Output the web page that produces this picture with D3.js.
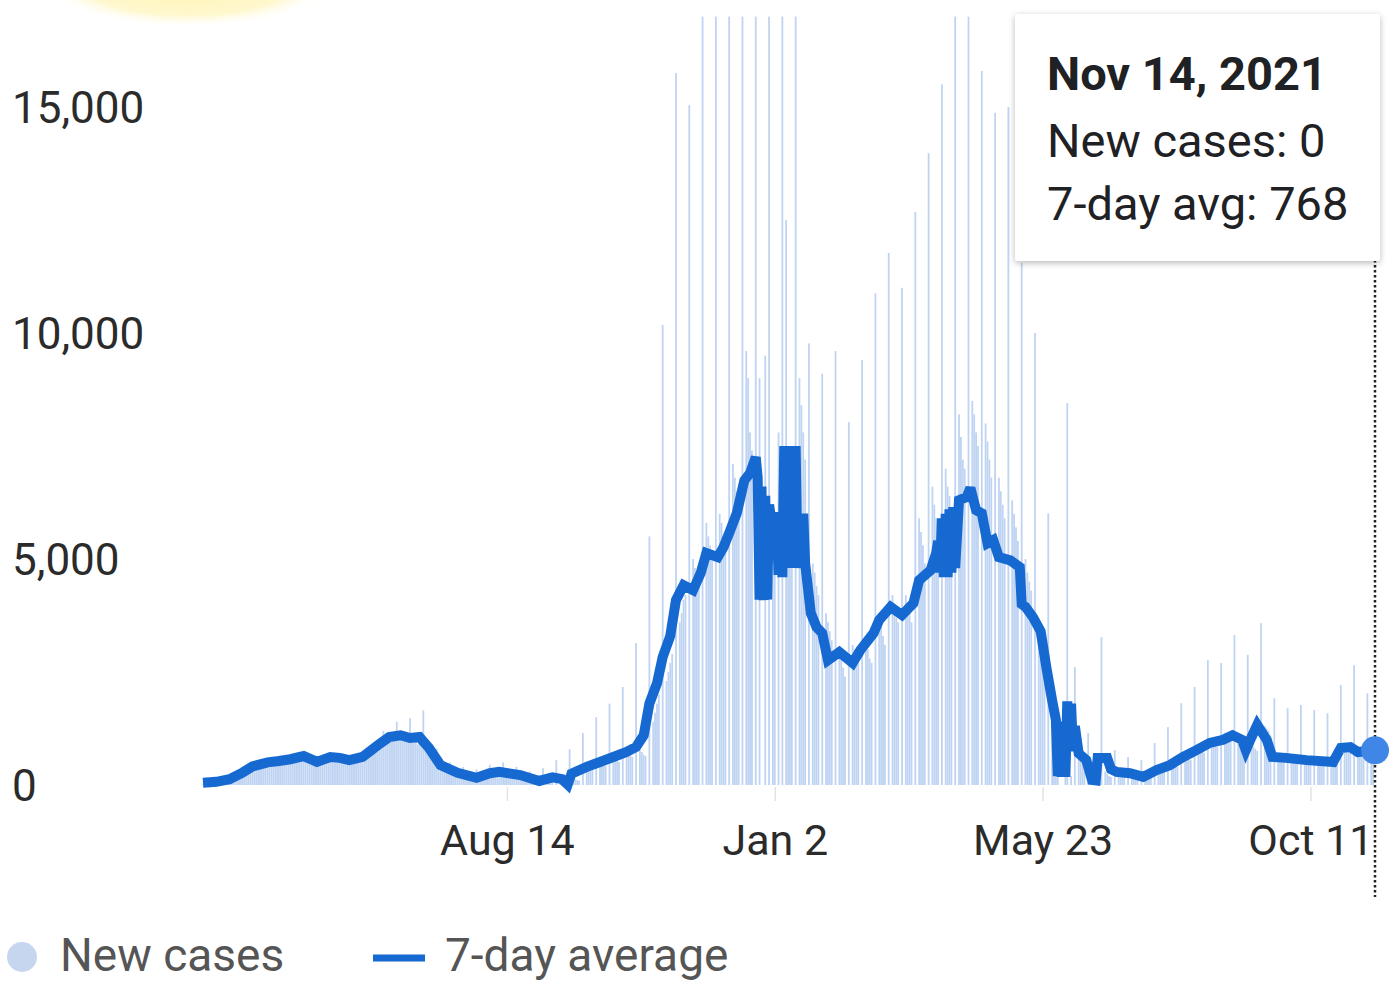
<!DOCTYPE html>
<html>
<head>
<meta charset="utf-8">
<script src="https://cdn.jsdelivr.net/npm/d3@7"></script>
<style>
html,body{margin:0;padding:0;background:#fff;}
svg{display:block;font-family:Roboto,"Noto Sans",Arial,sans-serif;}
</style>
</head>
<body>
<svg id="chart" width="1392" height="982"></svg>
<script>
// ---------------- DATA ----------------
const startDate = "2020-03-07";
const endDate = "2021-11-14";
// New cases, first partial week (Sat Mar 7 - Tue Mar 10, 2020)
const newCasesLead = [20, 30, 40, 50];
// New cases per week, each row Wed -> Tue (from Wed Mar 11, 2020)
const newCasesWeeks = [
  [50,60,70,60,55,65,70],
  [90,110,130,120,115,130,140],
  [200,230,260,250,240,270,300],
  [380,410,440,430,400,430,450],
  [470,500,520,480,460,500,510],
  [520,540,560,510,500,540,560],
  [570,600,620,560,540,590,610],
  [650,640,600,580,560,610,600],
  [520,560,550,500,490,540,560],
  [590,620,630,570,560,600,620],
  [560,580,570,530,520,560,580],
  [600,630,650,580,560,620,660],
  [760,820,860,780,740,820,880],
  [1200,1000,1050,980,950,1020,1100],
  [1400,1050,1100,1000,980,1080,1100],
  [1480,1000,1020,950,900,1000,1000],
  [1650,900,850,700,650,700,600],
  [800,550,500,420,380,400,380],
  [500,300,280,240,220,260,300],
  [400,200,200,170,160,200,210],
  [350,150,140,120,110,150,170],
  [450,260,240,200,190,230,250],
  [500,280,260,220,200,250,260],
  [400,210,200,170,160,190,210],
  [300,110,100,80,70,90,100],
  [370,0,150,140,130,120,0],
  [550,0,140,130,120,110,0],
  [790,0,130,120,110,100,0],
  [1150,0,410,390,360,340,0],
  [1500,0,510,480,440,420,0],
  [1800,0,620,590,540,510,0],
  [2170,0,750,710,650,620,0],
  [3140,0,770,730,670,640,0],
  [5500,0,1400,1600,1800,2000,0],
  [10180,0,2300,2500,2700,2900,0],
  [15750,0,3600,3800,4100,4200,0],
  [15040,0,5000,4800,4700,4400,0],
  [17000,0,5800,5500,5300,5000,0],
  [17000,0,6000,5800,5500,5200,0],
  [17000,0,7100,6800,6500,6200,0],
  [17000,0,9600,9000,7800,7400,0],
  [17000,0,9000,0,0,9500,0],
  [17000,0,6000,5400,0,7800,0],
  [17000,0,12500,7200,6000,6600,0],
  [17000,0,9000,8400,7800,7200,0],
  [9770,0,4900,4700,4400,4200,0],
  [9100,0,3800,3600,3400,3200,0],
  [9600,0,2900,2800,2600,2400,0],
  [8030,0,3100,3000,2800,2700,0],
  [9400,0,3100,3000,2800,2700,0],
  [10880,0,3700,3500,3300,3100,0],
  [11770,0,4200,4000,3700,3600,0],
  [11000,0,4200,4000,3800,3600,0],
  [12680,0,5900,5600,5300,4900,0],
  [13980,0,6600,6200,5900,5600,0],
  [15500,0,7000,6600,6400,6000,0],
  [17000,0,8200,7700,7200,7000,0],
  [17000,0,8500,8200,7800,7500,0],
  [15800,0,8000,7600,7200,6800,0],
  [14870,0,6800,6500,6200,5900,0],
  [15000,0,6300,6000,5700,5400,0],
  [11550,0,5000,4700,4500,4300,0],
  [10000,0,3600,3300,3200,3000,0],
  [6010,0,1800,1700,1600,1500,0],
  [0,0,300,8450,0,200,0],
  [2610,0,700,600,500,400,0],
  [1150,0,250,200,180,150,0],
  [3270,0,300,250,200,180,0],
  [770,0,330,300,280,250,0],
  [620,0,300,280,260,240,0],
  [550,0,220,200,180,170,0],
  [930,0,360,340,320,300,0],
  [1280,0,480,450,420,400,0],
  [1810,0,650,620,580,550,0],
  [2170,0,850,800,760,720,0],
  [2760,0,1000,950,900,850,0],
  [2700,0,1150,1100,1050,1000,0],
  [3320,0,1100,1050,1000,950,0],
  [2880,0,900,850,800,750,0],
  [3580,0,1300,1250,1200,1100,0],
  [1920,0,700,650,600,560,0],
  [1700,0,650,620,580,550,0],
  [1770,0,570,540,510,480,0],
  [1660,0,570,540,500,470,0],
  [1590,0,560,520,490,460,0],
  [2210,0,900,850,800,750,0],
  [2650,0,800,750,700,650,0],
  [2030,0,900,850,0]
];
// 7-day average (date, value)
const avgDates = ["2020-03-07","2020-03-14","2020-03-21","2020-03-28","2020-04-02","2020-04-10","2020-04-16","2020-04-22","2020-04-29","2020-05-06","2020-05-13","2020-05-18","2020-05-23","2020-05-30","2020-06-07","2020-06-13","2020-06-19","2020-06-24","2020-06-29","2020-07-04","2020-07-10","2020-07-19","2020-07-29","2020-08-05","2020-08-10","2020-08-21","2020-08-31","2020-09-07","2020-09-12","2020-09-15","2020-09-17","2020-09-25","2020-10-02","2020-10-09","2020-10-16","2020-10-21","2020-10-25","2020-10-28","2020-11-01","2020-11-04","2020-11-08","2020-11-11","2020-11-15","2020-11-20","2020-11-24","2020-11-27","2020-12-03","2020-12-06","2020-12-09","2020-12-13","2020-12-17","2020-12-20","2020-12-23","2020-12-24","2020-12-25","2020-12-26","2020-12-27","2020-12-28","2020-12-29","2020-12-30","2020-12-31","2021-01-03","2021-01-04","2021-01-05","2021-01-06","2021-01-07","2021-01-08","2021-01-09","2021-01-10","2021-01-11","2021-01-12","2021-01-13","2021-01-14","2021-01-15","2021-01-16","2021-01-17","2021-01-18","2021-01-21","2021-01-24","2021-01-27","2021-01-30","2021-02-05","2021-02-12","2021-02-16","2021-02-23","2021-02-26","2021-03-04","2021-03-10","2021-03-16","2021-03-19","2021-03-25","2021-03-28","2021-03-29","2021-03-30","2021-03-31","2021-04-01","2021-04-02","2021-04-03","2021-04-04","2021-04-05","2021-04-06","2021-04-07","2021-04-09","2021-04-13","2021-04-15","2021-04-18","2021-04-21","2021-04-24","2021-04-27","2021-04-30","2021-05-06","2021-05-11","2021-05-12","2021-05-14","2021-05-18","2021-05-22","2021-05-25","2021-05-28","2021-05-30","2021-05-31","2021-06-01","2021-06-02","2021-06-03","2021-06-04","2021-06-05","2021-06-06","2021-06-07","2021-06-08","2021-06-09","2021-06-11","2021-06-15","2021-06-18","2021-06-20","2021-06-21","2021-06-26","2021-06-28","2021-07-01","2021-07-08","2021-07-15","2021-07-22","2021-07-29","2021-08-05","2021-08-12","2021-08-19","2021-08-26","2021-08-31","2021-09-05","2021-09-07","2021-09-10","2021-09-13","2021-09-18","2021-09-21","2021-09-28","2021-10-09","2021-10-23","2021-10-27","2021-11-01","2021-11-05","2021-11-14"];
const avgValues = [50,70,130,280,410,500,530,570,640,510,620,600,550,620,880,1060,1100,1040,1060,820,440,270,160,260,290,220,90,170,130,10,250,400,510,620,730,840,1100,1800,2250,2830,3300,4090,4420,4310,4690,5130,5040,5260,5570,6010,6740,6900,7250,6800,4100,6600,4090,6400,4100,6200,5930,5930,4650,5900,4600,7500,4800,7500,4800,7500,4800,7500,4800,6000,4900,6000,4900,3800,3490,3360,2760,2940,2700,2980,3360,3650,3940,3760,4020,4530,4750,5130,5400,4700,5900,4600,6000,4600,6100,4700,6150,4800,6300,6370,6570,6080,6010,5350,5420,5040,4970,4820,4000,3940,3710,3400,2600,1880,1440,200,1400,180,1300,180,1850,800,1800,750,1300,700,550,110,100,600,600,350,290,260,180,330,440,620,770,930,1000,1100,1000,770,1060,1330,1000,620,600,550,510,820,840,730,768];
const yTicks = [0, 5000, 10000, 15000];
const xTickDates = ["2020-08-14", "2021-01-02", "2021-05-23", "2021-10-11"];
const tooltipTitle = "Nov 14, 2021";
const tooltipLines = ["New cases: 0", "7-day avg: 768"];
const legendLabels = ["New cases", "7-day average"];
const selectedDate = "2021-11-14";
const selectedAvg = 768;

// ---------------- CHART ----------------
const parse = d3.utcParse("%Y-%m-%d");
const svg = d3.select("#chart");

const x = d3.scaleUtc().domain([parse(startDate), parse(endDate)]).range([203, 1375]);
const y = d3.scaleLinear().domain([0, 15000]).range([785, 107]);

const barColor = "#bfd4f2";
const lineColor = "#1769d2";

// decorative yellow glow at top
const defs = svg.append("defs");
const rg = defs.append("radialGradient").attr("id", "glow");
rg.append("stop").attr("offset", "0%").attr("stop-color", "#fff2a8");
rg.append("stop").attr("offset", "75%").attr("stop-color", "#fff8cf");
rg.append("stop").attr("offset", "100%").attr("stop-color", "#ffffff").attr("stop-opacity", 0);
svg.append("ellipse").attr("cx", 188).attr("cy", -22).attr("rx", 150).attr("ry", 50).attr("fill", "url(#glow)");

const shadow = defs.append("filter").attr("id", "shadow").attr("x", "-10%").attr("y", "-10%").attr("width", "120%").attr("height", "130%");
shadow.append("feDropShadow").attr("dx", 0).attr("dy", 2).attr("stdDeviation", 3).attr("flood-color", "#000").attr("flood-opacity", 0.28);

// flatten daily data
const dailyValues = newCasesLead.concat(...newCasesWeeks);
const start = parse(startDate);
const daily = dailyValues.map((v, i) => ({ date: d3.utcDay.offset(start, i), value: v }));

// bars
const bw = 1.8;
svg.append("g").selectAll("rect").data(daily.filter(d => d.value > 0)).join("rect")
  .attr("x", d => x(d.date) - bw / 2)
  .attr("width", bw)
  .attr("y", d => y(d.value))
  .attr("height", d => y(0) - y(d.value))
  .attr("fill", barColor);

// x ticks (faint)
const xTicks = xTickDates.map(parse);
const xAxis = d3.axisBottom(x).tickValues(xTicks).tickFormat(d3.utcFormat("%b %-d")).tickSize(14).tickPadding(23);
const gx = svg.append("g").attr("transform", "translate(0,787)").call(xAxis);
gx.select(".domain").remove();
gx.selectAll(".tick line").attr("stroke", "#e3e3e3").attr("stroke-width", 1.5);
gx.selectAll(".tick text").attr("font-size", 43).attr("fill", "#2b2b2b").attr("font-family", "Roboto").attr("dy", "0.71em");

// y axis
const yAxis = d3.axisLeft(y).tickValues(yTicks).tickFormat(d3.format(",")).tickSize(0);
const gy = svg.append("g").call(yAxis);
gy.select(".domain").remove();
gy.selectAll(".tick text").attr("x", 12).attr("text-anchor", "start").attr("font-size", 44)
  .attr("fill", "#2b2b2b").attr("font-family", "Roboto").attr("dy", "0.36em");

// 7-day avg line
const avgData = avgDates.map((d, i) => ({ date: parse(d), value: avgValues[i] }));
const line = d3.line().x(d => x(d.date)).y(d => y(d.value));
svg.append("path").datum(avgData).attr("d", line).attr("fill", "none")
  .attr("stroke", lineColor).attr("stroke-width", 10).attr("stroke-linejoin", "miter").attr("stroke-miterlimit", 3);

// dotted vertical hover line
const sx = x(parse(selectedDate));
svg.append("line").attr("x1", sx).attr("x2", sx).attr("y1", 40).attr("y2", 897)
  .attr("stroke", "#222").attr("stroke-width", 2.5).attr("stroke-dasharray", "2.5,2.5");

// tooltip
const tip = svg.append("g");
tip.append("rect").attr("x", 1015).attr("y", 14).attr("width", 365).attr("height", 247).attr("rx", 3)
  .attr("fill", "#fff").attr("filter", "url(#shadow)");
tip.append("text").attr("x", 1047).attr("y", 90).attr("font-size", 47).attr("font-weight", "bold")
  .attr("fill", "#202124").text(tooltipTitle);
tooltipLines.forEach((t, i) => {
  tip.append("text").attr("x", 1047).attr("y", 157 + i * 63).attr("font-size", 47)
    .attr("fill", "#202124").text(t);
});

// selected point
svg.append("circle").attr("cx", sx).attr("cy", y(selectedAvg)).attr("r", 14).attr("fill", "#3f86e6");

// legend
const lg = svg.append("g");
lg.append("circle").attr("cx", 22).attr("cy", 957).attr("r", 15).attr("fill", "#c6d6ef");
lg.append("text").attr("x", 60).attr("y", 971).attr("font-size", 46).attr("fill", "#555").text(legendLabels[0]);
lg.append("line").attr("x1", 373).attr("x2", 425).attr("y1", 958).attr("y2", 958).attr("stroke", lineColor).attr("stroke-width", 7);
lg.append("text").attr("x", 445).attr("y", 971).attr("font-size", 46).attr("fill", "#555").text(legendLabels[1]);
</script>
</body>
</html>
